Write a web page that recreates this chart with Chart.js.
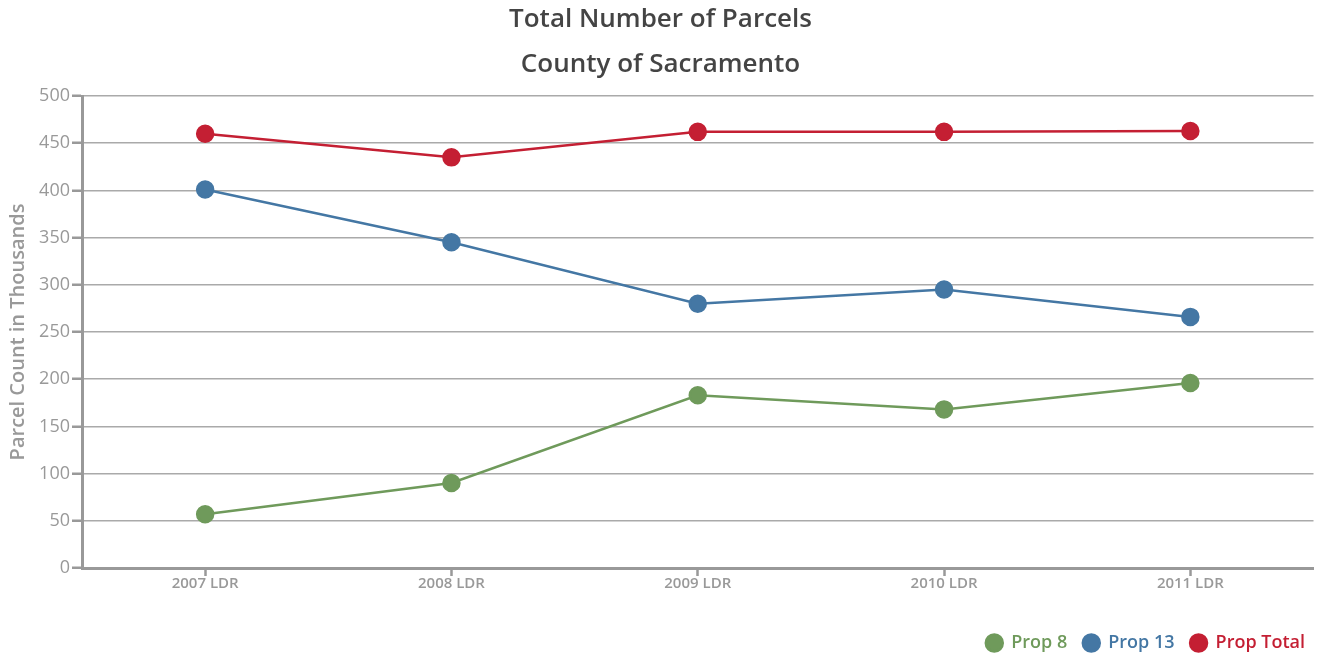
<!DOCTYPE html>
<html>
<head>
<meta charset="utf-8">
<script src="https://cdn.jsdelivr.net/npm/chart.js@4"></script>
<style>
  html, body { margin: 0; padding: 0; background: #fff; }
  #wrap { width: 1324px; height: 656px; }
</style>
</head>
<body>
<div id="wrap"><canvas id="parcels"></canvas></div>
<script>
// Total number of parcels, County of Sacramento (thousands)
const years = ['2007 LDR', '2008 LDR', '2009 LDR', '2010 LDR', '2011 LDR'];
const prop8 = [57, 90, 183, 168, 196];
const prop13 = [401, 345, 280, 295, 266];
const propTotal = [460, 435, 462, 462, 463];

const GREEN = '#6f9a5b';
const BLUE = '#4477a4';
const RED = '#c41f33';
const GREY = '#999999';
const FONT = "'Open Sans'";

function series(label, values, color) {
    return {
        label: label,
        data: values,
        borderColor: color,
        backgroundColor: color,
        pointBackgroundColor: color,
        pointBorderColor: color,
        pointRadius: 8,
        pointHoverRadius: 8,
        borderWidth: 2.5,
        tension: 0
    };
}

// short ticks for the 25s between labelled values
const minorTicks = {
    id: 'minorTicks',
    afterDraw(chart) {
        const y = chart.scales.y;
        const ctx = chart.ctx;
        ctx.save();
        ctx.strokeStyle = GREY;
        ctx.lineWidth = 2;
        y.ticks.forEach(t => {
            if (t.value % 50 === 0) return;
            const py = y.getPixelForValue(t.value);
            ctx.beginPath();
            ctx.moveTo(y.right - 5, py);
            ctx.lineTo(y.right, py);
            ctx.stroke();
        });
        ctx.restore();
    }
};

new Chart(document.getElementById('parcels').getContext('2d'), {
    type: 'line',
    data: {
        labels: years,
        datasets: [
            series('Prop 8', prop8, GREEN),
            series('Prop 13', prop13, BLUE),
            series('Prop Total', propTotal, RED)
        ]
    },
    options: {
        responsive: true,
        maintainAspectRatio: false,
        animation: false,
        layout: { padding: { left: 0, right: 3, top: 0, bottom: -6 } },
        plugins: {
            title: {
                display: true,
                text: ['Total Number of Parcels', 'County of Sacramento'],
                color: '#444444',
                font: { family: FONT, size: 26, weight: '600', lineHeight: '45px' },
                padding: { top: -3, bottom: 9 }
            },
            legend: {
                display: true,
                position: 'bottom',
                align: 'end',
                labels: {
                    usePointStyle: true,
                    pointStyle: 'circle',
                    boxWidth: 16,
                    boxHeight: 12,
                    padding: 16,
                    font: { family: FONT, size: 18, weight: '600' },
                    generateLabels: function(chart) {
                        const origin = Chart.defaults.plugins.legend.labels.generateLabels(chart);
                        return origin.map(item => ({
                            ...item,
                            fontColor: chart.data.datasets[item.datasetIndex].borderColor
                        }));
                    }
                }
            },
            tooltip: { enabled: false }
        },
        scales: {
            x: {
                offset: true,
                afterFit: function(scale) { scale.height = 50; },
                grid: {
                    offset: false,
                    drawOnChartArea: false,
                    drawTicks: true,
                    tickLength: 8,
                    tickColor: GREY,
                    tickWidth: 2.5
                },
                border: { color: GREY, width: 3 },
                ticks: {
                    color: GREY,
                    font: { family: FONT, size: 15, weight: '600' },
                    padding: -1,
                    maxRotation: 0
                }
            },
            y: {
                min: 0,
                max: 500,
                afterFit: function(scale) { scale.width = 82; },
                ticks: {
                    stepSize: 25,
                    color: GREY,
                    font: { family: FONT, size: 18 },
                    padding: 2,
                    callback: function(value) {
                        return value % 50 === 0 ? value : '';
                    }
                },
                grid: {
                    color: ctx => (ctx.tick && ctx.tick.value % 50 === 0) ? '#aaaaaa' : 'rgba(0,0,0,0)',
                    tickColor: ctx => (ctx.tick && ctx.tick.value % 50 === 0) ? GREY : 'rgba(0,0,0,0)',
                    lineWidth: 1.5,
                    tickLength: 10,
                    tickWidth: 2.5
                },
                border: { color: GREY, width: 3 },
                title: {
                    display: true,
                    text: 'Parcel Count in Thousands',
                    color: GREY,
                    font: { family: FONT, size: 20, weight: '600' },
                    padding: { top: 6, bottom: 0 }
                }
            }
        }
    },
    plugins: [minorTicks]
});
</script>
</body>
</html>
